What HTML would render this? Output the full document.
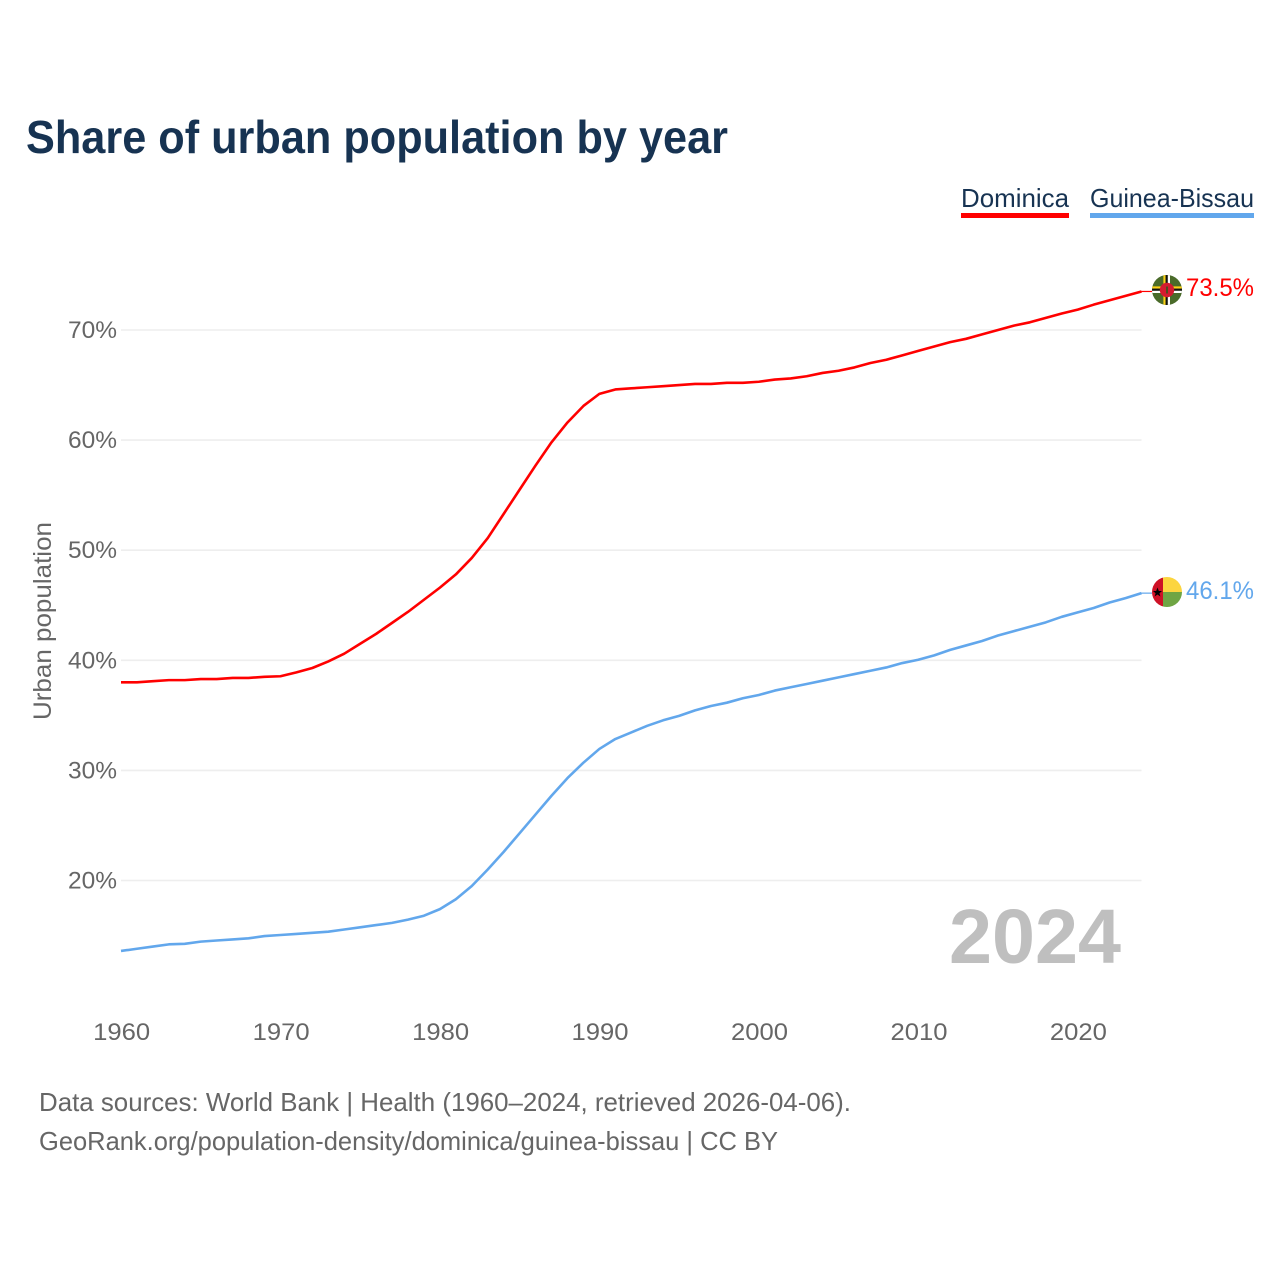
<!DOCTYPE html>
<html lang="en">
<head>
<meta charset="utf-8">
<title>Share of urban population by year</title>
<style>
html,body{margin:0;padding:0;background:#fff;width:1280px;height:1280px;overflow:hidden}
svg{display:block}
text{font-family:"Liberation Sans",sans-serif}
</style>
</head>
<body>
<svg id="chart" xmlns="http://www.w3.org/2000/svg" width="1280" height="1280" viewBox="0 0 1280 1280">
  <defs>
    <clipPath id="flag-clip-a"><circle cx="1167" cy="290" r="15"/></clipPath>
    <clipPath id="flag-clip-b"><circle cx="1167" cy="592" r="15"/></clipPath>
  </defs>
  <text x="26" y="153" font-size="46" font-weight="700" fill="#173352" textLength="702" lengthAdjust="spacingAndGlyphs">Share of urban population by year</text>

  <g>
    <text x="961" y="207" font-size="26" fill="#173352" textLength="108" lengthAdjust="spacingAndGlyphs">Dominica</text>
    <rect x="961" y="213" width="108" height="5" fill="#ff0000"/>
  </g>
  <g>
    <text x="1090" y="207" font-size="26" fill="#173352" textLength="164" lengthAdjust="spacingAndGlyphs">Guinea-Bissau</text>
    <rect x="1090" y="213" width="164" height="5" fill="#62a7ec"/>
  </g>

  <g id="grid"></g>
  <g id="yticks"></g>
  <g id="xticks"></g>
  <text transform="translate(51,621) rotate(-90)" text-anchor="middle" font-size="25" fill="#666666" textLength="198" lengthAdjust="spacingAndGlyphs">Urban population</text>

  <text x="949" y="963" font-size="77" font-weight="700" fill="#bfbfbf" textLength="172" lengthAdjust="spacingAndGlyphs">2024</text>

  <g id="series"></g>

  <g clip-path="url(#flag-clip-a)">
    <rect x="1152" y="275" width="30" height="30" fill="#4a6b2a"/>
    <rect x="1152" y="286.4" width="30" height="2.2" fill="#fcd116"/>
    <rect x="1152" y="288.6" width="30" height="2.2" fill="#111111"/>
    <rect x="1152" y="290.8" width="30" height="2.2" fill="#ffffff"/>
    <rect x="1163.4" y="275" width="2.2" height="30" fill="#fcd116"/>
    <rect x="1165.6" y="275" width="2.2" height="30" fill="#111111"/>
    <rect x="1167.8" y="275" width="2.2" height="30" fill="#ffffff"/>
    <circle cx="1167" cy="290" r="7.2" fill="#d41c30"/>
    <rect x="1166.2" y="286.5" width="1.6" height="7" fill="#2f5a1c"/>
  </g>
  <g clip-path="url(#flag-clip-b)">
    <rect x="1152" y="577" width="11" height="30" fill="#ce1126"/>
    <rect x="1163" y="577" width="19" height="15" fill="#fcd53f"/>
    <rect x="1163" y="592" width="19" height="15" fill="#6fa544"/>
    <polygon points="1157.5,587.5 1158.8,591 1162,591 1159.4,593.2 1160.4,596.5 1157.5,594.5 1154.6,596.5 1155.6,593.2 1153,591 1156.2,591" fill="#000000"/>
  </g>

  <text x="1186" y="296" font-size="25" fill="#ff0000" textLength="68" lengthAdjust="spacingAndGlyphs">73.5%</text>
  <text x="1186" y="599" font-size="25" fill="#62a7ec" textLength="68" lengthAdjust="spacingAndGlyphs">46.1%</text>

  <text x="39" y="1111" font-size="26" fill="#666666" textLength="812" lengthAdjust="spacingAndGlyphs">Data sources: World Bank | Health (1960–2024, retrieved 2026-04-06).</text>
  <text x="39" y="1150" font-size="26" fill="#666666" textLength="739" lengthAdjust="spacingAndGlyphs">GeoRank.org/population-density/dominica/guinea-bissau | CC BY</text>
</svg>
<script>
const years = [1960,1961,1962,1963,1964,1965,1966,1967,1968,1969,1970,1971,1972,1973,1974,1975,1976,1977,1978,1979,1980,1981,1982,1983,1984,1985,1986,1987,1988,1989,1990,1991,1992,1993,1994,1995,1996,1997,1998,1999,2000,2001,2002,2003,2004,2005,2006,2007,2008,2009,2010,2011,2012,2013,2014,2015,2016,2017,2018,2019,2020,2021,2022,2023,2024];
const dominicaValues = [38.0,38.0,38.1,38.2,38.2,38.3,38.3,38.4,38.4,38.5,38.55,38.9,39.3,39.9,40.6,41.5,42.4,43.4,44.4,45.5,46.6,47.8,49.3,51.1,53.3,55.5,57.7,59.8,61.6,63.1,64.2,64.6,64.7,64.8,64.9,65.0,65.1,65.1,65.2,65.2,65.3,65.5,65.6,65.8,66.1,66.3,66.6,67.0,67.3,67.7,68.1,68.5,68.9,69.2,69.6,70.0,70.4,70.7,71.1,71.5,71.85,72.3,72.7,73.1,73.5];
const guineaBissauValues = [13.6,13.8,14.0,14.2,14.25,14.45,14.55,14.65,14.75,14.95,15.05,15.15,15.25,15.35,15.55,15.75,15.95,16.15,16.45,16.8,17.4,18.3,19.5,21.0,22.6,24.3,26.0,27.7,29.3,30.7,31.95,32.85,33.45,34.05,34.55,34.95,35.45,35.85,36.15,36.55,36.85,37.25,37.55,37.85,38.15,38.45,38.75,39.05,39.35,39.75,40.05,40.45,40.95,41.35,41.75,42.25,42.65,43.05,43.45,43.95,44.35,44.75,45.25,45.65,46.1];
const yTickValues = [20,30,40,50,60,70];
const yTickLabels = ["20%","30%","40%","50%","60%","70%"];
const xTickValues = [1960,1970,1980,1990,2000,2010,2020];
const xTickLabels = ["1960","1970","1980","1990","2000","2010","2020"];

const SVG_NS = "http://www.w3.org/2000/svg";
function xScale(year) { return 121 + (year - 1960) * (1141.5 - 121) / 64; }
function yScale(value) { return 330 + (70 - value) * 11.01; }
function make(tag, parent) {
  const el = document.createElementNS(SVG_NS, tag);
  parent.appendChild(el);
  return el;
}

const grid = document.getElementById("grid");
const yticks = document.getElementById("yticks");
const xticks = document.getElementById("xticks");
const series = document.getElementById("series");

yTickValues.forEach(function (v, i) {
  const line = make("line", grid);
  
  
  line.setAttribute("x1", 121);
  line.setAttribute("x2", 1141.5);
  line.setAttribute("y1", yScale(v));
  line.setAttribute("y2", yScale(v));
  line.setAttribute("stroke", "#eeeeee");
  line.setAttribute("stroke-width", "1.6");

  const label = make("text", yticks);
  
  
  label.setAttribute("x", 117);
  label.setAttribute("y", yScale(v) + 8);
  label.setAttribute("text-anchor", "end");
  label.setAttribute("font-size", "24");
  label.setAttribute("fill", "#666666");
  label.setAttribute("textLength", "49");
  label.setAttribute("lengthAdjust", "spacingAndGlyphs");
  label.textContent = yTickLabels[i];
});

xTickValues.forEach(function (y, i) {
  const label = make("text", xticks);
  
  
  label.setAttribute("x", xScale(y) + 0.7);
  label.setAttribute("y", 1040);
  label.setAttribute("text-anchor", "middle");
  label.setAttribute("font-size", "24");
  label.setAttribute("fill", "#666666");
  label.setAttribute("textLength", "57");
  label.setAttribute("lengthAdjust", "spacingAndGlyphs");
  label.textContent = xTickLabels[i];
});

function pathFor(values) {
  return values.map(function (v, i) {
    return (i ? "L" : "M") + xScale(years[i]).toFixed(2) + " " + yScale(v).toFixed(2);
  }).join(" ");
}

const dominicaLine = make("path", series);


dominicaLine.setAttribute("d", pathFor(dominicaValues));
dominicaLine.setAttribute("fill", "none");
dominicaLine.setAttribute("stroke", "#ff0000");
dominicaLine.setAttribute("stroke-width", "2.6");
dominicaLine.setAttribute("stroke-linejoin", "round");

const guineaLine = make("path", series);


guineaLine.setAttribute("d", pathFor(guineaBissauValues));
guineaLine.setAttribute("fill", "none");
guineaLine.setAttribute("stroke", "#62a7ec");
guineaLine.setAttribute("stroke-width", "2.6");
guineaLine.setAttribute("stroke-linejoin", "round");

const dominicaLead = make("line", series);


dominicaLead.setAttribute("x1", xScale(2024));
dominicaLead.setAttribute("x2", 1152);
dominicaLead.setAttribute("y1", yScale(dominicaValues[dominicaValues.length - 1]));
dominicaLead.setAttribute("y2", yScale(dominicaValues[dominicaValues.length - 1]));
dominicaLead.setAttribute("stroke", "#ff0000");
dominicaLead.setAttribute("stroke-width", "1.2");

const guineaLead = make("line", series);


guineaLead.setAttribute("x1", xScale(2024));
guineaLead.setAttribute("x2", 1152);
guineaLead.setAttribute("y1", yScale(guineaBissauValues[guineaBissauValues.length - 1]));
guineaLead.setAttribute("y2", yScale(guineaBissauValues[guineaBissauValues.length - 1]));
guineaLead.setAttribute("stroke", "#62a7ec");
guineaLead.setAttribute("stroke-width", "1.2");
</script>
</body>
</html>
